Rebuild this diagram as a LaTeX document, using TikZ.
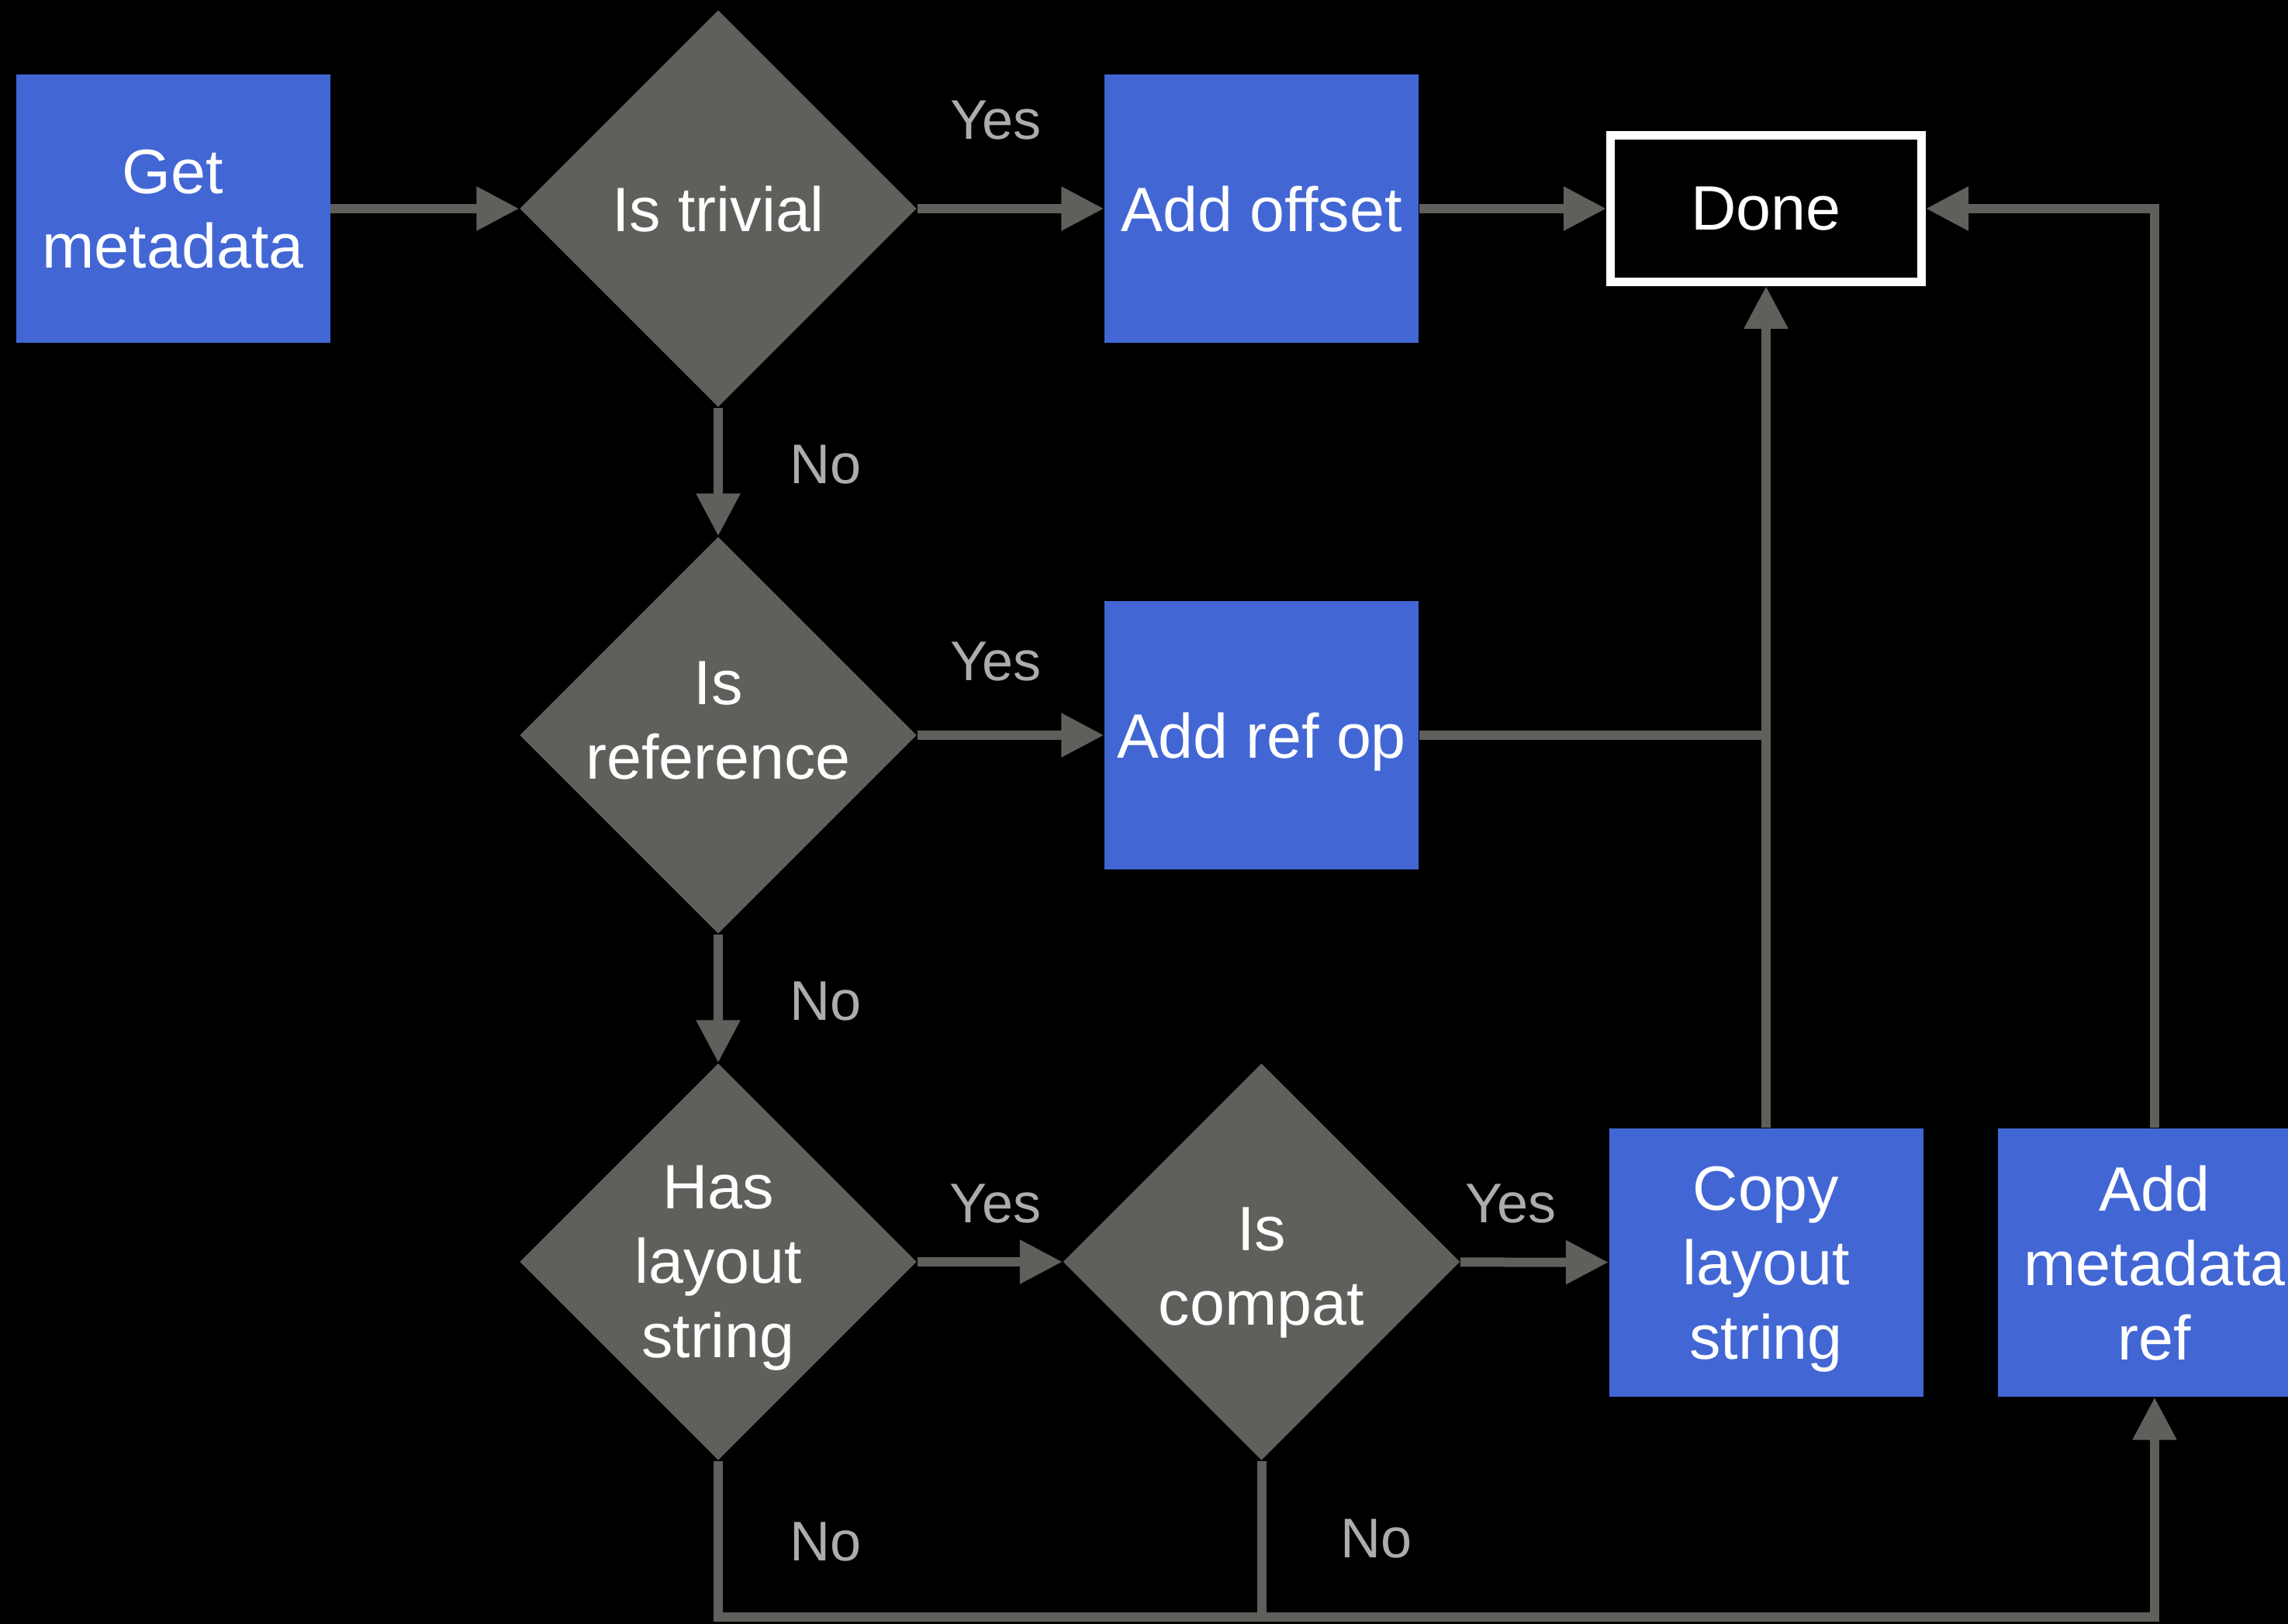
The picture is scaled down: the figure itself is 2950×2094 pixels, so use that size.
\documentclass[tikz,border=0pt]{standalone}
\usepackage{fontspec}
\setmainfont{Liberation Sans}
\usepackage{tikz}
\usetikzlibrary{arrows.meta,positioning,shapes.geometric}
\definecolor{fBlue}{RGB}{66,103,212}
\definecolor{dGray}{RGB}{96,95,92}
\definecolor{lGray}{RGB}{172,172,172}

\begin{document}
\begin{tikzpicture}[x=0.1mm,y=0.1mm,font=\fontsize{23}{27.3}\selectfont,
  bx/.style={fill=fBlue,text=white,align=center,minimum width=40.5mm,minimum height=34.6mm,inner sep=0pt,text depth=0pt},
  dm/.style={diamond,aspect=1,fill=dGray,text=white,align=center,minimum width=51.2mm,minimum height=51.2mm,inner sep=0pt,text depth=0pt},
  dn/.style={draw=white,fill=black,text=white,line width=1.1mm,minimum width=40.1mm,minimum height=18.9mm,inner sep=0pt},
  ar/.style={-{Triangle[length=5.5mm,width=5.4mm]},dGray,line width=1.2mm},
  ln/.style={dGray,line width=1.2mm},
  lb/.style={text=lGray,inner sep=0pt,font=\fontsize{20.5}{23}\selectfont}]
\useasboundingbox (0,0) rectangle (2950,-2094);
\clip (0,0) rectangle (2950,-2094);
\fill[black] (0,0) rectangle (2950,-2094);
\def\A{223}\def\B{926}\def\C{1626.5}\def\D{2277}\def\E{2778}
\node[bx] (get)    at (\A,-269)  {Get\\metadata};
\node[dm] (triv)   at (\B,-269)  {Is trivial};
\node[bx] (off)    at (\C,-269)  {Add offset};
\node[dn] (done)   at (\D,-269)  {Done};
\node[dm,text height=11.2mm] (isref) at (\B,-948) {Is\\reference};
\node[bx] (refop)  at (\C,-948)  {Add ref op};
\node[dm] (lay)    at (\B,-1627) {Has\\layout\\string};
\node[dm,text height=16.3mm] (compat) at (\C,-1627) {Is\\compat};
\node[bx] (copy)   at (\D,-1628) {Copy\\layout\\string};
\node[bx] (meta)   at (\E,-1628) {Add\\metadata\\ref};
\coordinate (bot) at (\B,-2085);
\draw[ar] (get) -- (triv);
\draw[ar] (triv) -- node[lb,above=8.3mm,pos=0.42]{Yes} (off);
\draw[ar] (off) -- (done);
\draw[ar] (triv) -- node[lb,right=8.6mm,pos=0.44]{No} (isref);
\draw[ar] (isref) -- node[lb,above=6.4mm,pos=0.42]{Yes} (refop);
\draw[ar] (isref) -- node[lb,right=8.6mm,pos=0.52]{No} (lay);
\draw[ar] (lay) -- node[lb,above=4.4mm,pos=0.54]{Yes} (compat);
\draw[ar] (compat) -- node[lb,above=4.4mm,pos=0.34]{Yes} (copy);
\draw[ln] (refop) -- (refop -| copy);
\draw[ar] (copy) -- (done);
\draw[ar] (meta.north) |- (done.east);
\draw[ar] (lay.south) -- node[lb,right=8.6mm,pos=0.52]{No} (bot) -| (meta.south);
\draw[ln] (compat.south) -- node[lb,right=9.6mm]{No} (compat |- bot);
\end{tikzpicture}
\end{document}
